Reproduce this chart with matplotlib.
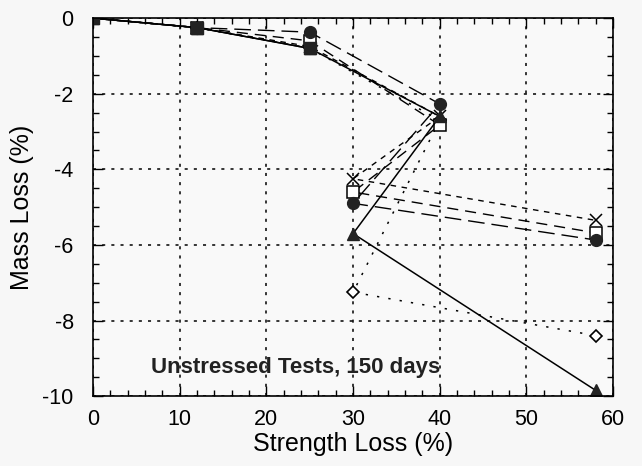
import matplotlib
matplotlib.use('Agg')
import matplotlib.pyplot as plt
from matplotlib.ticker import MultipleLocator

plt.rcParams['font.family'] = ['Liberation Sans', 'DejaVu Sans']
plt.rcParams['axes.unicode_minus'] = False

# order of the points follows the test sequence, not strength loss
x_full = [0, 12, 25, 40, 30, 58]
y_triangle = [0, -0.25, -0.8, -2.6, -5.7, -9.85]
y_circle = [0, -0.25, -0.37, -2.27, -4.9, -5.87]
y_open_square = [0, -0.25, -0.6, -2.83, -4.6, -5.68]
y_cross = [0, -0.25, -0.75, -2.6, -4.25, -5.35]
y_diamond = [0, -0.25, -0.8, -2.7, -7.25, -8.4]
x_square = [0, 12, 25]
y_square = [0, -0.25, -0.8]

fig = plt.figure(figsize=(6.42, 4.66), dpi=100)
fig.patch.set_facecolor('#f7f7f7')
ax = fig.add_axes([0.145, 0.15, 0.81, 0.811])
ax.set_facecolor('#f9f9f9')

ax.plot(x_full, y_diamond, linestyle=(0, (1.5, 6)), color='k', lw=1.1,
        marker='D', ms=6, mfc='white', mec='k', mew=1.2)
ax.plot(x_full, y_cross, linestyle=(0, (4, 4)), color='k', lw=1.0,
        marker='x', ms=8, mec='k', mew=1.1)
ax.plot(x_full, y_open_square, linestyle=(0, (8, 5)), color='k', lw=1.0,
        marker='s', ms=8, mfc='white', mec='k', mew=1.1)
ax.plot(x_full, y_circle, linestyle=(0, (12, 5)), color='k', lw=1.0,
        marker='o', ms=8.5, mfc='#222222', mec='#222222')
ax.plot(x_full, y_triangle, linestyle='-', color='k', lw=1.1,
        marker='^', ms=8.5, mfc='#222222', mec='#222222')
ax.plot(x_square, y_square, linestyle='-', color='k', lw=1.0,
        marker='s', ms=9, mfc='#222222', mec='#222222')

ax.set_xlim(0, 60)
ax.set_ylim(-10, 0)
ax.xaxis.set_major_locator(MultipleLocator(10))
ax.xaxis.set_minor_locator(MultipleLocator(2))
ax.yaxis.set_major_locator(MultipleLocator(2))
ax.yaxis.set_minor_locator(MultipleLocator(0.5))
ax.tick_params(which='both', direction='in', top=True, right=True, labelsize=15.5)
ax.tick_params(axis='x', which='major', pad=9)
ax.tick_params(axis='y', which='major', pad=14)
ax.tick_params(which='major', length=7, width=1)
ax.tick_params(which='minor', length=4, width=1)
ax.grid(True, which='major', linestyle=(0, (2, 4)), color='k', lw=1.1)
for s in ax.spines.values():
    s.set_linewidth(1.2)

ax.set_xlabel('Strength Loss (%)', fontsize=18, labelpad=2)
ax.set_ylabel('Mass Loss (%)', fontsize=18, labelpad=6)
ax.text(40.1, -9.25, 'Unstressed Tests, 150 days', ha='right', va='center',
        fontsize=16, fontweight='bold', color='#222222')

fig.savefig('out.png', dpi=100, facecolor=fig.get_facecolor())
